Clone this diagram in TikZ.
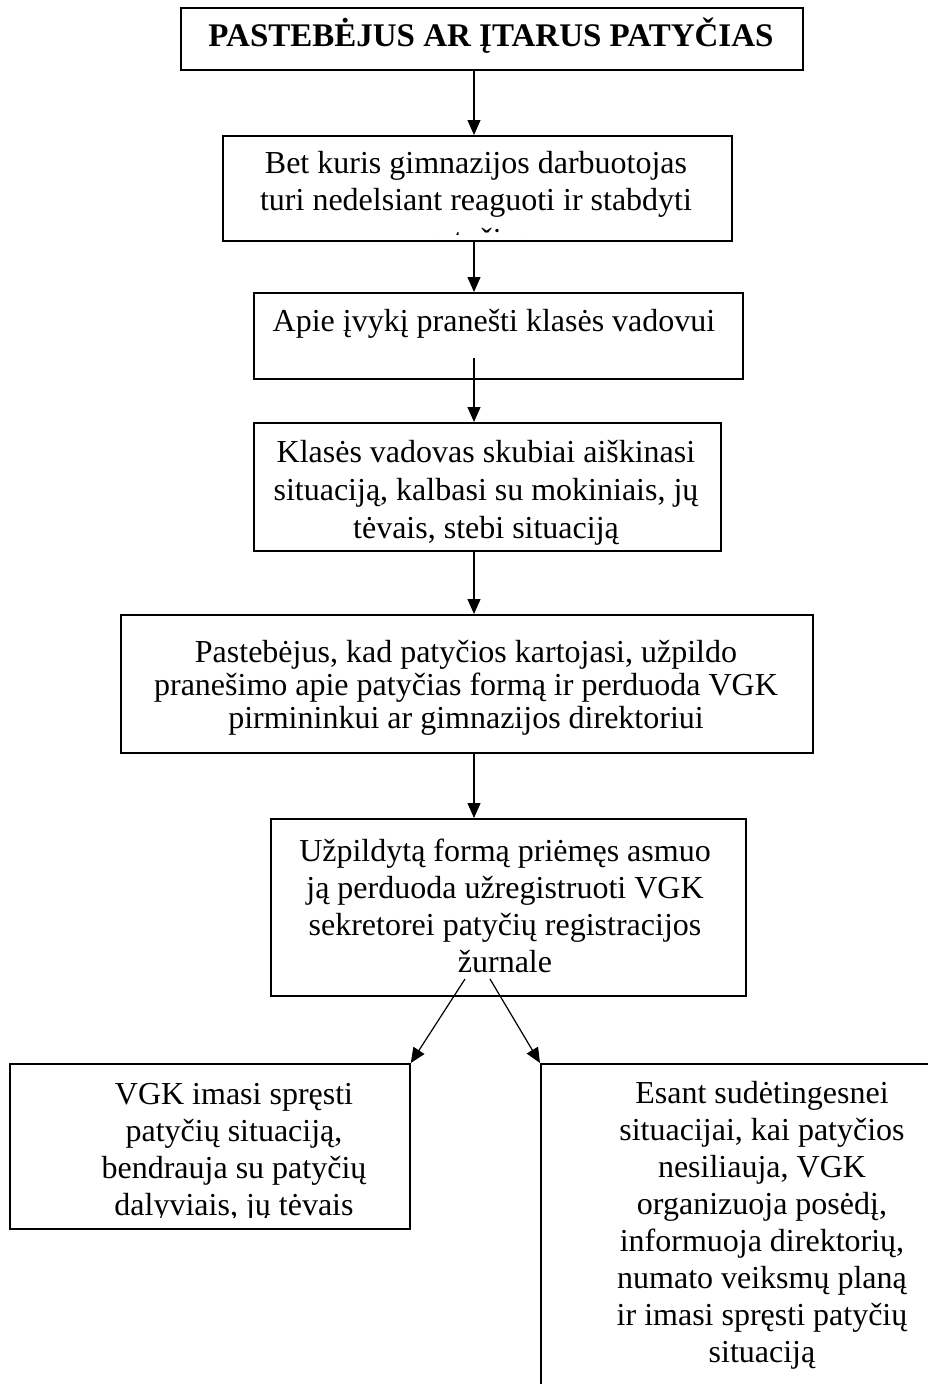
\documentclass[tikz,border=0pt]{standalone}
\usepackage{fontspec}
\setmainfont{Liberation Serif}
\usetikzlibrary{arrows.meta}
\begin{document}
\begin{tikzpicture}[x=1pt,y=-1pt,
  box/.style={draw, line width=1.8pt, rectangle, inner sep=0pt, anchor=north west},
  txt/.style={inner sep=0pt, anchor=base, align=center, font=\fontsize{32}{37}\selectfont},
  arr/.style={line width=1.2pt, -{Triangle[length=15pt,width=13pt]}}]
\useasboundingbox (0,0) rectangle (928,1384);
\clip (0,0) rectangle (928,1384);
\fill[white] (0,0) rectangle (928,1384);
% boxes
\node[box, minimum width=622pt, minimum height=62pt] (b1) at (180,7) {};
\node[box, minimum width=509pt, minimum height=105pt] (b2) at (222,135) {};
\node[box, minimum width=489pt, minimum height=86pt] (b3) at (253,292) {};
\node[box, minimum width=467pt, minimum height=128pt] (b4) at (253,422) {};
\node[box, minimum width=692pt, minimum height=138pt] (b5) at (120,614) {};
\node[box, minimum width=475pt, minimum height=177pt] (b6) at (270,818) {};
\node[box, minimum width=400pt, minimum height=165pt] (b7) at (9,1063) {};
\node[box, minimum width=440pt, minimum height=360pt] (b8) at (540,1063) {};
% texts (anchor base = baseline of the last line)
\node[txt, font=\fontsize{33}{37}\selectfont\bfseries] (t1) at (491,46) {PASTEBĖJUS AR ĮTARUS PATYČIAS};
\node[txt] (t2) at (476,210) {Bet kuris gimnazijos darbuotojas\\turi nedelsiant reaguoti ir stabdyti};
\begin{scope}
\clip (222,135) rectangle (731,234);
\node[txt] (t2c) at (476,250) {patyčias};
\end{scope}
\node[txt] (t3) at (494,331) {Apie įvykį pranešti klasės vadovui};
\node[txt, font=\fontsize{32}{38}\selectfont] (t4) at (486,538) {Klasės vadovas skubiai aiškinasi\\situaciją, kalbasi su mokiniais, jų\\tėvais, stebi situaciją};
\node[txt, font=\fontsize{32}{33}\selectfont] (t5) at (466,728) {Pastebėjus, kad patyčios kartojasi, užpildo\\pranešimo apie patyčias formą ir perduoda VGK\\pirmininkui ar gimnazijos direktoriui};
\node[txt] (t6) at (505,972) {Užpildytą formą priėmęs asmuo\\ją perduoda užregistruoti VGK\\sekretorei patyčių registracijos\\žurnale};
\begin{scope}
\clip (9,1063) rectangle (409,1217);
\node[txt] (t7) at (234,1215) {VGK imasi spręsti\\patyčių situaciją,\\bendrauja su patyčių\\dalyviais, jų tėvais};
\end{scope}
\node[txt] (t8) at (762,1362) {Esant sudėtingesnei\\situacijai, kai patyčios\\nesiliauja, VGK\\organizuoja posėdį,\\informuoja direktorių,\\numato veiksmų planą\\ir imasi spręsti patyčių\\situaciją};
% connector points
\coordinate (ax) at (474,0);
\coordinate (c3) at (474,358);
\coordinate (s1) at (465,979);
\coordinate (s2) at (490,979);
% connectors
\draw[arr] (b1.south -| ax) -- (b2.north -| ax);
\draw[arr] (b2.south -| ax) -- (b3.north -| ax);
\draw[arr] (c3) -- (b4.north -| ax);
\draw[arr] (b4.south -| ax) -- (b5.north -| ax);
\draw[arr] (b5.south -| ax) -- (b6.north -| ax);
\draw[arr] (s1) -- (b7.north east);
\draw[arr] (s2) -- (b8.north west);
\end{tikzpicture}
\end{document}
